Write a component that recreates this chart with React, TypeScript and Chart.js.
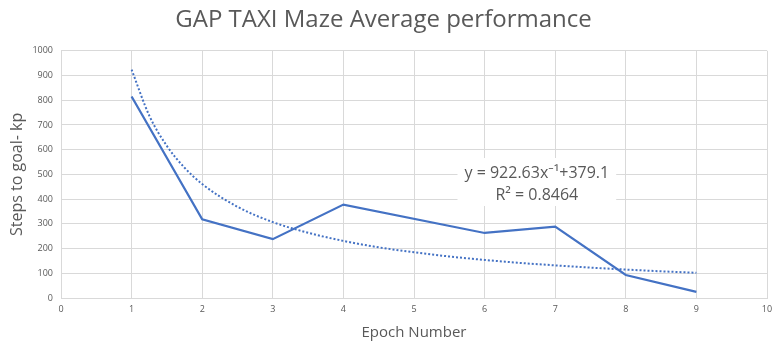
import React, { useEffect, useRef } from "react";
import { Chart, registerables } from "chart.js";

Chart.register(...registerables);

const TITLE = "GAP TAXI Maze Average performance";
const X_TITLE = "Epoch Number";
const Y_TITLE = "Steps to goal- kp";

const epochs = [1, 2, 3, 4, 6, 7, 8, 9];
const steps = [815, 318, 238, 378, 263, 289, 93, 25];

const trendX = [1, 1.25, 1.5, 1.75, 2, 2.5, 3, 3.5, 4, 4.5, 5, 5.5, 6, 6.5, 7, 7.5, 8, 8.5, 9];
const trendY = [924, 738, 615, 527, 461, 369, 307, 264, 231, 205, 185, 168, 154, 142, 132, 123, 115, 108, 102];

const EQ_LINE1 = "y = 922.63x\u207B\u00B9+379.1";
const EQ_LINE2 = "R\u00B2 = 0.8464";
const EQ_POS = { x: 6.74, y: 542 };

const TEXT = "#595959";
const GRID = "#d9d9d9";
const BLUE = "#4472C4";
const FONT = "'Open Sans', 'Noto Sans', sans-serif";

const labelPlugin = {
  id: "eqLabel",
  afterDatasetsDraw(chart: any) {
    const { ctx, scales } = chart;
    const cx = scales.x.getPixelForValue(EQ_POS.x);
    const cy = scales.y.getPixelForValue(EQ_POS.y);
    ctx.save();
    ctx.font = `16px ${FONT}`;
    const w = Math.max(ctx.measureText(EQ_LINE1).width, ctx.measureText(EQ_LINE2).width) + 14;
    ctx.fillStyle = "#ffffff";
    ctx.fillRect(cx - w / 2, cy - 6, w, 48);
    ctx.fillStyle = TEXT;
    ctx.textAlign = "center";
    ctx.textBaseline = "middle";
    ctx.fillText(EQ_LINE1, cx, cy + 9);
    ctx.fillText(EQ_LINE2, cx, cy + 31);
    ctx.restore();
  },
};

export default function App() {
  const ref = useRef<HTMLCanvasElement>(null);
  useEffect(() => {
    document.body.style.margin = "0";
    const chart = new Chart(ref.current!, {
      type: "scatter",
      data: {
        datasets: [
          {
            label: "steps",
            data: epochs.map((x, i) => ({ x, y: steps[i] })),
            showLine: true,
            borderColor: BLUE,
            backgroundColor: BLUE,
            borderWidth: 2.25,
            pointRadius: 0,
            tension: 0,
          },
          {
            label: "trend",
            data: trendX.map((x, i) => ({ x, y: trendY[i] })),
            showLine: true,
            borderColor: BLUE,
            borderWidth: 2,
            borderDash: [2, 2],
            pointRadius: 0,
            cubicInterpolationMode: "monotone",
          },
        ],
      },
      options: {
        animation: false,
        responsive: false,
        layout: { padding: { left: 0, right: 13, top: 0, bottom: 10 } },
        plugins: {
          legend: { display: false },
          tooltip: { enabled: false },
          title: {
            display: true,
            text: TITLE,
            color: TEXT,
            font: { family: FONT, size: 24, weight: "normal" },
            padding: { top: 6, bottom: 16 },
          },
        },
        scales: {
          x: {
            type: "linear",
            min: 0,
            max: 10,
            ticks: { stepSize: 1, color: TEXT, font: { family: FONT, size: 9 }, padding: 6 },
            grid: { color: GRID, drawTicks: false },
            border: { color: GRID },
            title: {
              display: true,
              text: X_TITLE,
              color: TEXT,
              font: { family: FONT, size: 15 },
              padding: { top: 6, bottom: 0 },
            },
            afterFit: (s: any) => { s.height = 44; },
          },
          y: {
            min: 0,
            max: 1000,
            ticks: {
              stepSize: 100,
              color: TEXT,
              font: { family: FONT, size: 9 },
              padding: 8,
              callback: (v: any) => String(v),
            },
            grid: { color: GRID, drawTicks: false },
            border: { color: GRID },
            title: {
              display: true,
              text: Y_TITLE,
              color: TEXT,
              font: { family: FONT, size: 16 },
              padding: { top: 8, bottom: 4 },
            },
            afterFit: (s: any) => { s.width = 61; },
          },
        },
      },
      plugins: [labelPlugin],
    } as any);
    return () => chart.destroy();
  }, []);
  return <canvas ref={ref} width={780} height={352} style={{ display: "block" }} />;
}
